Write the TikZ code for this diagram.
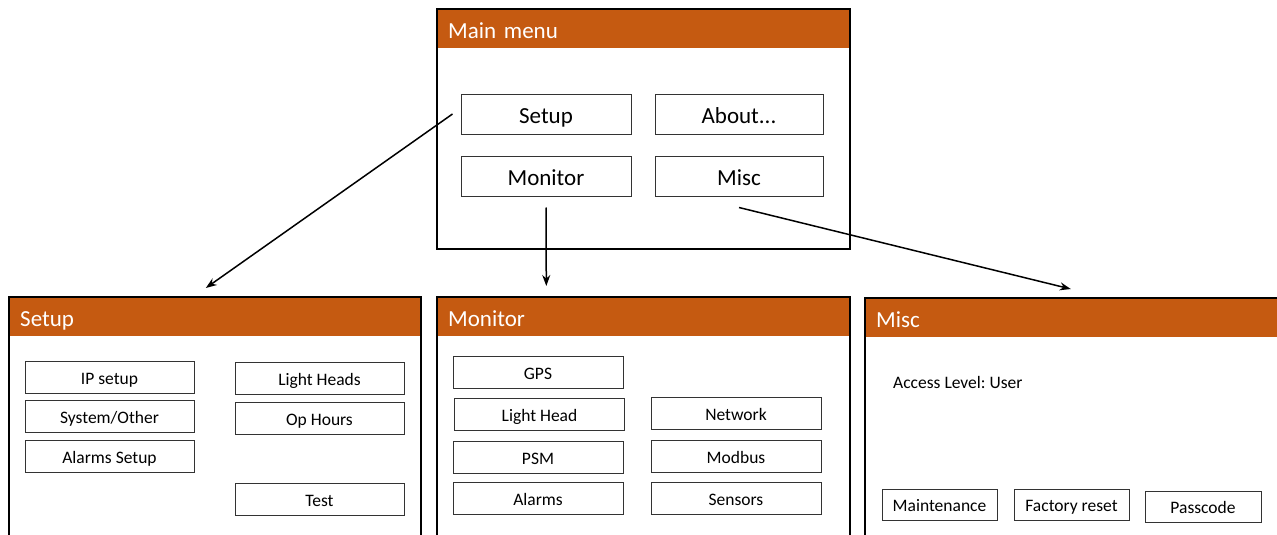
\documentclass[tikz,border=0pt]{standalone}
\usepackage{fontspec}
\setmainfont{Carlito}
\frenchspacing
\usetikzlibrary{arrows.meta}
\definecolor{menuorange}{HTML}{C55A11}
\tikzstyle{panel}=[draw, line width=1.6pt, anchor=north west, inner sep=0pt]
\tikzstyle{header}=[fill=menuorange, text=white, anchor=north west, inner xsep=12pt, inner ysep=0pt, minimum height=40pt, text height=20.5pt, text depth=0pt, align=left, font=\fontsize{23}{28}\selectfont]
\tikzstyle{menubtn}=[draw=black!80, line width=1pt, minimum height=40pt, text height=19pt, text depth=0pt, font=\fontsize{23}{28}\selectfont]
\tikzstyle{subbtn}=[draw=black!80, line width=1pt, minimum height=32pt, minimum width=169pt, text height=14.5pt, text depth=0pt, font=\fontsize{17.5}{21}\selectfont]
\tikzstyle{link}=[line width=1.5pt, -{Stealth[length=11pt, width=8pt]}]

\begin{document}
\begin{tikzpicture}[x = 1pt, y = -1pt]
\useasboundingbox (0,0) rectangle (1277,535);
\clip (0,0) rectangle (1277,535);
% Main menu
    \node[header, text width=389pt] (mainhead) at (436,8) {Main menu};
    \node[panel, minimum width=413pt, minimum height=240pt] (mainpanel) at (436,8) {};
    \node[menubtn, minimum width=170pt] (setupbtn) at (546,114) {Setup};
    \node[menubtn, minimum width=168pt] (aboutbtn) at (739,114) {About...};
    \node[menubtn, minimum width=170pt] (monitorbtn) at (546,176) {Monitor};
    \node[menubtn, minimum width=168pt] (miscbtn) at (739,176) {Misc};
% Setup
    \node[header, text width=388pt] (setuphead) at (8,296) {Setup};
    \node[panel, minimum width=412pt, minimum height=270pt] (setuppanel) at (8,296) {};
    \node[subbtn] (ipsetup) at (109.5,377) {IP setup};
    \node[subbtn] (sysother) at (109.5,416.5) {System/Other};
    \node[subbtn] (alarmsetup) at (109.5,456) {Alarms Setup};
    \node[subbtn] (lightheads) at (319.5,378) {Light Heads};
    \node[subbtn] (ophours) at (319.5,418.5) {Op Hours};
    \node[subbtn] (test) at (319.5,499.5) {Test};
% Monitor
    \node[header, text width=389pt] (monitorhead) at (436,296) {Monitor};
    \node[panel, minimum width=413pt, minimum height=270pt] (monitorpanel) at (436,296) {};
    \node[subbtn, minimum width=170pt] (gps) at (538,372) {GPS};
    \node[subbtn, minimum width=170pt] (lighthead) at (539.5,414.5) {Light Head};
    \node[subbtn, minimum width=170pt] (psm) at (538,457) {PSM};
    \node[subbtn, minimum width=170pt] (alarms) at (538,498.5) {Alarms};
    \node[subbtn, minimum width=170pt] (network) at (736,413.5) {Network};
    \node[subbtn, minimum width=170pt] (modbus) at (736,456) {Modbus};
    \node[subbtn, minimum width=170pt] (sensors) at (736,498.5) {Sensors};
% Misc
    \node[header, text width=396pt] (mischead) at (864,297) {Misc};
    \node[panel, minimum width=420pt, minimum height=270pt] (miscpanel) at (864,297) {};
    \node[anchor=west, inner sep=0pt, text height=14.5pt, text depth=0pt, font=\fontsize{17.5}{21}\selectfont] (access) at (893,381) {Access Level: User};
    \node[subbtn, minimum width=115pt, minimum height=31pt] (maint) at (939.5,504.5) {Maintenance};
    \node[subbtn, minimum width=115pt, minimum height=31pt] (factory) at (1071.5,504.5) {Factory reset};
    \node[subbtn, minimum width=116pt, minimum height=31pt] (passcode) at (1203,506.5) {Passcode};
% Links from the main menu
    \draw[link] ([xshift=-8pt]setupbtn.west) -- ([xshift=-9pt, yshift=8pt]setuppanel.north);
    \draw[link] ([yshift=-11pt]monitorbtn.south) -- ([xshift=-97pt, yshift=10pt]monitorpanel.north);
    \draw[link] ([yshift=-11pt]miscbtn.south) -- ([xshift=-4pt, yshift=8pt]miscpanel.north);
\end{tikzpicture}
\end{document}
